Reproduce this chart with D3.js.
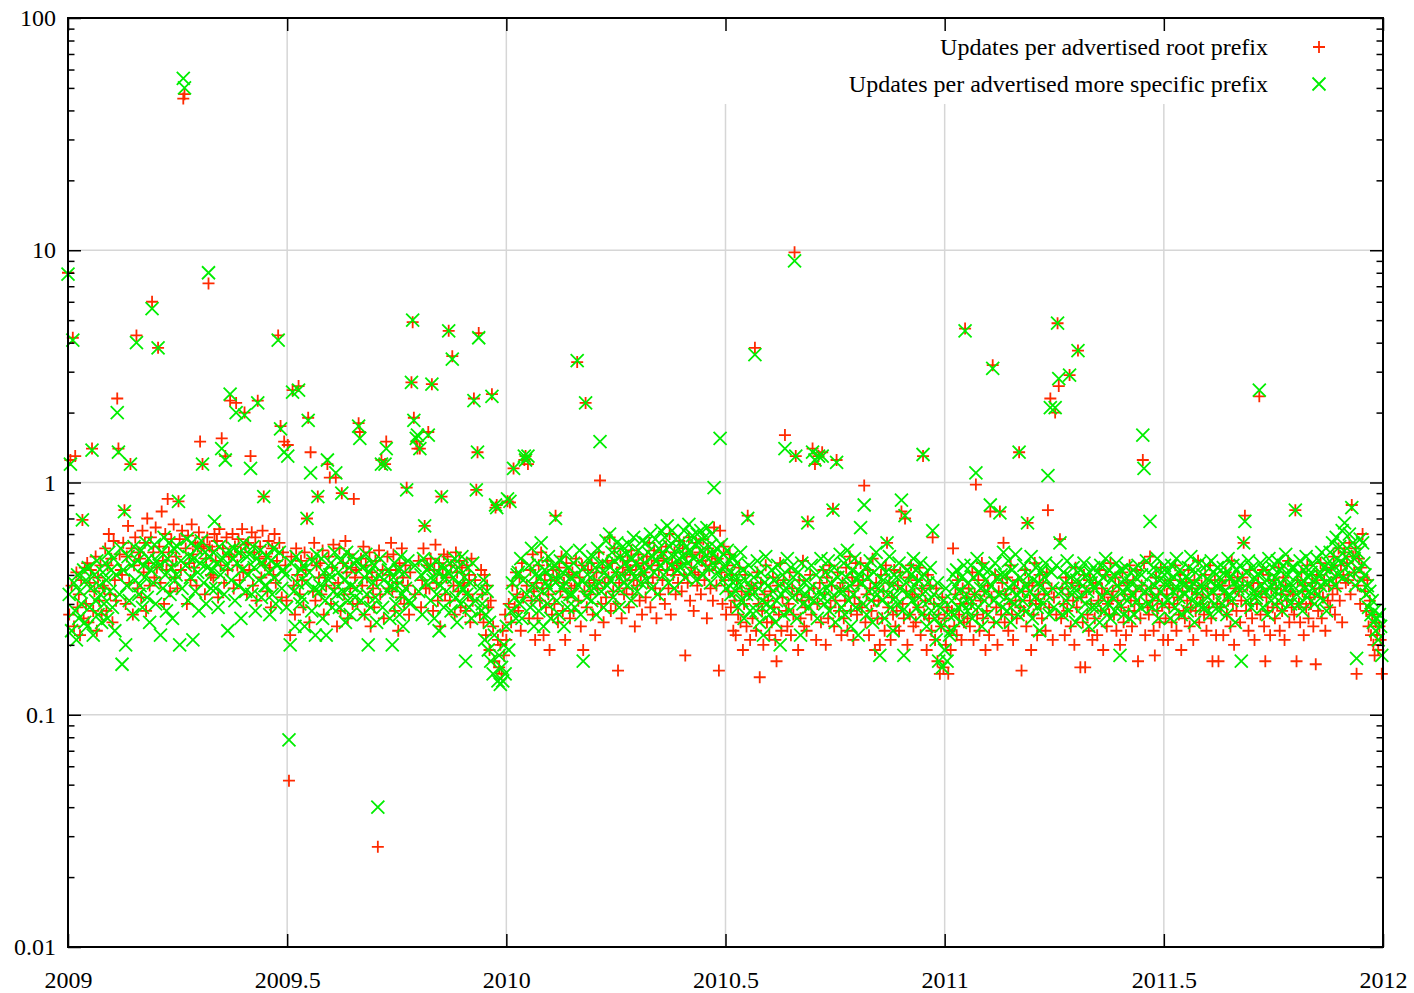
<!DOCTYPE html>
<html>
<head>
<meta charset="utf-8">
<script src="https://cdn.jsdelivr.net/npm/d3@7"></script>
<style>
  body { margin: 0; background: #fff; }
  text { font-family: "Liberation Serif", "DejaVu Serif", serif; }
</style>
</head>
<body>
<svg id="chart" width="1414" height="993"></svg>
<script>
// Daily update ratios, 2009-01-01 .. 2011-12-31, 15 days per row.
const rootPrefixUpdates = [
  8.0,0.27,1.25,0.36,4.2,0.24,1.3,0.41,0.29,0.33,0.22,0.38,0.69,0.26,0.43,
  0.30,0.45,0.25,0.37,0.42,1.4,0.28,0.34,0.48,0.23,0.39,0.31,0.44,0.27,0.36,
  0.35,0.52,0.28,0.44,0.60,0.33,0.47,0.25,0.56,0.38,0.31,2.3,1.4,0.49,0.42,
  0.40,0.55,0.76,0.30,0.48,0.65,0.37,1.2,0.52,0.27,0.44,0.58,4.3,0.35,0.50,
  0.47,0.32,0.62,0.41,0.55,0.28,0.70,0.45,0.36,0.58,6.0,0.50,0.39,0.64,0.43,
  3.8,0.53,0.37,0.75,0.46,0.30,0.60,0.42,0.85,0.50,0.34,0.57,0.44,0.66,0.39,
  0.48,0.35,0.83,0.57,0.42,0.62,45,47,0.52,0.30,0.59,0.45,0.38,0.66,0.49,
  0.43,0.55,0.36,0.53,0.61,1.5,0.52,1.2,0.54,0.33,0.47,0.58,7.2,0.53,0.40,
  0.51,0.39,0.60,0.46,0.56,0.32,0.63,0.44,1.55,0.52,0.37,1.3,0.58,0.42,0.49,
  2.25,0.48,0.60,0.35,0.53,2.2,0.44,0.57,0.38,0.50,0.63,0.41,2.0,0.54,0.33,
  0.55,0.42,1.3,0.61,0.36,0.50,0.58,0.31,2.25,0.47,0.53,0.39,0.62,0.87,0.44,
  0.48,0.34,0.56,0.43,0.29,0.52,0.40,0.60,0.37,0.46,4.3,0.55,1.75,0.32,0.50,
  1.5,0.44,0.31,1.45,0.052,0.22,0.48,2.5,0.36,0.27,0.52,0.40,2.6,0.33,0.46,
  0.38,0.29,0.50,0.42,0.7,1.9,0.25,1.35,0.47,0.34,0.55,0.31,0.44,0.87,0.39,
  0.45,0.33,0.51,0.27,0.40,0.36,1.2,0.48,1.05,0.30,0.43,0.54,0.35,1.05,0.24,
  0.37,0.52,0.28,0.9,0.45,0.33,0.56,0.41,0.26,0.49,0.35,0.43,0.30,0.85,0.39,
  0.42,0.30,1.8,1.65,0.47,0.36,0.53,0.27,0.44,0.39,0.32,0.50,0.24,0.41,0.35,
  0.29,0.46,0.38,0.027,0.51,0.33,1.25,0.42,0.26,1.2,1.5,0.48,0.35,0.40,0.55,
  0.34,0.49,0.28,0.42,0.37,0.23,0.45,0.32,0.52,0.39,0.30,0.44,0.95,0.36,0.27,
  0.41,2.7,4.9,1.9,0.33,1.5,1.4,0.46,1.4,0.29,0.38,0.52,0.65,0.35,0.44,
  1.65,0.35,0.47,2.65,0.28,0.42,0.54,0.37,0.31,0.45,0.24,0.87,0.40,0.49,0.33,
  0.39,0.48,4.5,0.31,0.44,3.5,0.36,0.27,0.50,0.41,0.34,0.46,0.29,0.43,0.37,
  0.36,0.28,0.44,0.33,0.40,0.25,0.47,0.31,2.3,0.38,0.93,1.35,4.4,0.27,0.42,
  0.33,0.25,0.40,0.22,0.36,0.29,0.19,0.31,2.4,0.24,0.17,0.78,0.8,0.21,0.16,
  0.20,0.15,0.23,0.18,0.27,0.21,0.83,0.30,0.82,0.25,0.36,1.15,0.29,0.41,0.33,
  0.28,0.39,0.23,0.45,0.32,1.25,1.3,0.36,1.2,0.26,0.42,0.31,0.49,0.34,0.21,
  0.37,0.26,0.44,0.31,0.50,0.35,0.22,0.40,0.29,0.46,0.33,0.19,0.38,0.27,0.42,
  0.30,0.72,0.39,0.25,0.43,0.34,0.48,0.28,0.37,0.21,0.45,0.32,0.40,0.26,0.35,
  0.41,0.28,0.36,0.47,3.3,0.31,0.39,0.24,0.44,0.19,0.34,2.2,0.29,0.42,0.37,
  0.33,0.45,0.27,0.38,0.22,0.41,0.35,0.50,1.02,0.30,0.43,0.25,0.37,0.32,0.46,
  0.39,0.58,0.28,0.45,0.34,0.52,0.30,0.41,0.155,0.37,0.48,0.26,0.43,0.33,0.40,
  0.35,0.46,0.29,0.42,0.51,0.33,0.38,0.24,0.44,0.36,0.49,0.31,0.40,0.27,0.45,
  0.41,0.32,0.48,0.37,0.55,0.29,0.44,0.39,0.51,0.35,0.26,0.46,0.42,0.33,0.50,
  0.38,0.47,0.30,0.53,0.42,0.35,0.60,0.27,0.45,0.40,0.50,0.33,0.44,0.37,0.56,
  0.45,0.34,0.52,0.40,0.18,0.48,0.37,0.58,0.31,0.43,0.49,0.28,0.41,0.55,0.36,
  0.40,0.50,0.33,0.46,0.57,0.38,0.44,0.26,0.52,0.42,0.35,0.48,0.31,0.64,0.45,
  0.36,0.47,0.155,0.62,0.41,0.30,0.53,0.38,0.27,0.44,0.34,0.49,0.29,0.40,0.23,
  0.31,0.22,0.38,0.27,0.43,0.25,0.34,0.19,0.30,0.40,0.24,0.72,0.33,0.21,0.36,
  0.26,0.35,3.8,0.23,0.41,0.30,0.145,0.37,0.28,0.20,0.33,0.44,0.25,0.31,0.22,
  0.34,0.25,0.39,0.29,0.21,0.17,0.36,0.27,0.45,0.23,0.32,0.38,1.6,0.28,0.24,
  0.30,0.41,0.22,0.35,0.27,9.8,1.3,0.33,0.19,0.38,0.26,0.31,0.46,0.24,0.29,
  0.23,0.68,0.32,0.40,0.27,1.4,0.35,1.2,0.21,0.30,1.3,0.37,0.25,1.35,0.42,
  0.33,0.20,0.39,0.26,0.44,0.29,0.36,0.77,0.24,0.31,1.25,0.41,0.28,0.35,0.22,
  0.37,0.26,0.31,0.43,0.23,0.34,0.48,0.28,0.39,0.21,0.32,0.45,0.27,0.36,0.30,
  0.45,0.29,0.38,0.97,0.25,0.33,0.42,0.22,0.35,0.28,0.47,0.31,0.19,0.37,0.26,
  0.31,0.20,0.40,0.26,0.34,0.23,0.44,0.55,0.29,0.37,0.21,0.32,0.27,0.42,0.24,
  0.28,0.36,0.23,0.41,0.75,0.30,0.26,0.7,0.34,0.20,0.39,0.27,0.44,0.32,0.24,
  0.33,0.25,0.38,0.29,0.43,0.22,0.35,1.3,0.27,0.31,0.19,0.40,0.26,0.36,0.23,
  0.58,0.30,0.21,0.35,0.17,0.27,0.15,0.24,0.32,0.16,0.26,0.20,0.29,0.15,0.23,
  0.19,0.28,0.52,0.24,0.33,0.22,0.38,0.27,0.30,0.21,0.35,0.25,4.6,0.32,0.26,
  0.35,0.24,0.30,0.41,0.21,0.33,0.98,0.27,0.38,0.23,0.31,0.45,0.26,0.34,0.19,
  0.28,0.36,0.22,0.75,0.32,3.2,0.25,0.40,0.29,0.20,0.34,0.75,0.27,0.37,0.55,
  0.25,0.33,0.39,0.23,0.30,0.44,0.27,0.21,0.35,0.31,0.26,0.38,1.35,0.29,0.155,
  0.34,0.28,0.42,0.24,0.67,0.37,0.31,0.19,0.36,0.27,0.45,0.30,0.22,0.33,0.40,
  0.30,0.26,0.37,0.33,0.23,0.41,0.76,0.29,2.3,0.35,0.21,0.32,2.0,0.27,4.85,
  2.6,0.57,0.26,0.35,0.30,0.22,0.39,0.28,0.33,2.9,0.24,0.37,0.31,0.20,0.43,
  0.29,3.7,0.36,0.16,0.32,0.25,0.40,0.16,0.34,0.27,0.23,0.38,0.30,0.21,0.35,
  0.26,0.37,0.22,0.31,0.42,0.28,0.35,0.19,0.33,0.40,0.24,0.30,0.27,0.45,0.32,
  0.34,0.27,0.39,0.23,0.31,0.36,0.20,0.29,0.41,0.25,0.33,0.22,0.37,0.28,0.44,
  0.31,0.24,0.38,0.28,0.34,0.42,0.17,0.30,0.26,0.36,1.25,0.45,0.22,0.33,0.29,
  0.27,0.48,0.35,0.31,0.23,0.18,0.39,0.28,0.33,0.25,0.43,0.30,0.21,0.36,0.26,
  0.33,0.21,0.29,0.38,0.25,0.35,0.30,0.44,0.23,0.32,0.27,0.40,0.19,0.34,0.28,
  0.26,0.37,0.31,0.42,0.24,0.29,0.35,0.21,0.38,0.28,0.33,0.46,0.25,0.30,0.36,
  0.32,0.27,0.40,0.23,0.35,0.29,0.44,0.26,0.17,0.33,0.38,0.22,0.30,0.17,0.36,
  0.29,0.36,0.22,0.33,0.41,0.27,0.31,0.38,0.24,0.46,0.30,0.20,0.35,0.28,0.39,
  0.34,0.25,0.31,0.39,0.55,0.72,0.28,0.36,0.23,0.42,0.30,0.26,0.37,0.21,0.33,
  0.30,0.37,2.35,0.27,0.34,0.42,0.24,0.17,0.32,0.28,0.40,0.22,0.35,0.29,0.38,
  0.26,0.35,0.30,0.43,0.23,0.33,0.28,0.39,0.21,0.36,0.31,0.46,0.25,0.34,0.29,
  0.33,0.27,0.76,0.17,0.38,0.30,0.25,0.41,0.34,0.22,0.36,0.29,0.44,0.26,0.32,
  0.30,0.37,0.24,0.33,0.165,0.40,0.28,0.35,0.45,0.26,0.32,0.38,0.23,0.42,0.31,
  0.36,0.29,0.43,0.33,0.48,0.27,0.39,0.35,0.52,0.31,0.44,0.25,0.40,0.5,0.37,
  0.45,0.38,0.55,0.33,0.8,0.48,0.41,0.52,0.15,0.36,0.47,0.30,0.43,0.6,0.39,
  0.34,0.28,0.38,0.24,0.31,0.22,0.27,0.20,0.18,0.25,0.22,0.19,0.24,0.21,0.15
];

const specificPrefixUpdates = [
  7.9,0.33,1.2,0.23,4.1,0.37,0.28,0.21,0.40,0.26,0.34,0.30,0.69,0.42,0.25,
  0.38,0.24,0.43,0.29,0.35,1.38,0.22,0.40,0.31,0.46,0.27,0.36,0.33,0.25,0.41,
  0.30,0.45,0.38,0.26,0.50,0.34,0.42,0.29,0.47,0.23,0.40,2.0,1.35,0.33,0.52,
  0.165,0.42,0.75,0.20,0.36,0.48,0.31,1.2,0.44,0.27,0.53,0.38,4.0,0.46,0.33,
  0.36,0.51,0.29,0.44,0.39,0.55,0.32,0.47,0.25,0.42,5.6,0.37,0.54,0.30,0.46,
  3.8,0.44,0.22,0.50,0.35,0.58,0.40,0.28,0.47,0.55,0.33,0.43,0.26,0.52,0.38,
  0.40,0.53,0.83,0.20,0.46,0.35,55,50,0.44,0.57,0.31,0.48,0.39,0.55,0.21,
  0.47,0.34,0.52,0.41,0.28,0.45,0.56,1.2,0.37,0.50,0.30,0.43,8.0,0.48,0.35,
  0.42,0.50,0.68,0.35,0.45,0.29,0.53,0.40,1.4,0.47,0.33,1.25,0.44,0.23,0.51,
  2.4,0.38,0.47,0.52,0.31,2.0,0.45,0.36,0.50,0.26,0.42,0.55,1.95,0.34,0.48,
  0.40,0.49,1.15,0.33,0.53,0.43,0.28,0.47,2.2,0.38,0.51,0.32,0.45,0.87,0.36,
  0.36,0.48,0.41,0.27,0.46,0.33,0.52,0.39,0.30,0.44,4.1,0.50,1.7,0.35,0.42,
  1.35,0.40,0.29,1.3,0.078,0.20,0.45,2.45,0.34,0.24,0.48,0.37,2.5,0.30,0.42,
  0.32,0.44,0.24,0.37,0.7,1.85,0.41,1.1,0.28,0.46,0.35,0.22,0.49,0.87,0.34,
  0.36,0.47,0.26,0.41,0.31,0.22,1.25,0.38,0.40,0.45,0.29,0.34,0.50,1.1,0.33,
  0.41,0.29,0.46,0.9,0.34,0.38,0.25,0.50,0.31,0.43,0.27,0.36,0.48,0.45,0.32,
  0.35,0.46,1.75,1.55,0.31,0.43,0.27,0.39,0.49,0.33,0.20,0.41,0.29,0.45,0.37,
  0.44,0.32,0.25,0.04,0.40,0.47,1.2,0.29,0.38,1.2,1.4,0.34,0.42,0.26,0.36,
  0.20,0.39,0.45,0.30,0.36,0.42,0.27,0.48,0.33,0.24,0.41,0.35,0.93,0.46,0.31,
  0.30,2.7,5.0,1.85,0.44,1.55,1.6,0.34,1.4,0.40,0.27,0.47,0.65,0.37,0.42,
  1.6,0.43,0.31,2.65,0.38,0.26,0.46,0.33,0.41,0.23,0.36,0.87,0.44,0.29,0.39,
  0.34,0.41,4.5,0.45,0.28,3.4,0.39,0.47,0.32,0.25,0.43,0.36,0.30,0.48,0.35,
  0.39,0.17,0.33,0.43,0.29,0.37,0.26,0.45,2.25,0.31,0.93,1.35,4.2,0.35,0.28,
  0.30,0.38,0.21,0.27,0.34,0.19,0.25,0.17,2.35,0.15,0.22,0.8,0.78,0.14,0.18,
  0.135,0.16,0.14,0.20,0.15,0.24,0.85,0.19,0.83,0.28,0.37,1.15,0.32,0.26,0.40,
  0.41,0.30,0.47,0.26,0.38,1.3,1.25,0.33,1.3,0.44,0.29,0.52,0.36,0.24,0.40,
  0.32,0.45,0.28,0.39,0.55,0.34,0.24,0.42,0.37,0.30,0.48,0.35,0.26,0.43,0.38,
  0.44,0.7,0.31,0.38,0.27,0.46,0.35,0.41,0.24,0.37,0.50,0.29,0.43,0.33,0.39,
  0.33,0.45,0.29,0.40,3.35,0.36,0.51,0.27,0.38,0.17,0.43,2.2,0.32,0.47,0.35,
  0.39,0.31,0.48,0.35,0.43,0.27,0.52,0.37,1.5,0.34,0.45,0.29,0.41,0.56,0.36,
  0.44,0.6,0.38,0.50,0.32,0.46,0.41,0.55,0.35,0.29,0.48,0.40,0.53,0.37,0.45,
  0.49,0.36,0.54,0.42,0.31,0.47,0.58,0.39,0.45,0.34,0.51,0.43,0.37,0.56,0.41,
  0.45,0.55,0.38,0.50,0.43,0.60,0.35,0.48,0.41,0.57,0.46,0.33,0.52,0.44,0.62,
  0.50,0.40,0.58,0.46,0.65,0.37,0.53,0.44,0.62,0.48,0.35,0.57,0.42,0.52,0.47,
  0.43,0.56,0.48,0.62,0.39,0.53,0.45,0.66,0.50,0.41,0.59,0.47,0.54,0.38,0.60,
  0.55,0.46,0.62,0.51,0.40,0.58,0.48,0.64,0.43,0.53,0.37,0.60,0.49,0.95,0.44,
  0.52,0.41,0.47,1.55,0.54,0.38,0.49,0.43,0.35,0.51,0.40,0.46,0.33,0.48,0.37,
  0.40,0.34,0.45,0.29,0.37,0.50,0.31,0.42,0.26,0.38,0.33,0.7,0.44,0.28,0.35,
  0.33,0.39,3.55,0.28,0.46,0.35,0.25,0.41,0.31,0.22,0.37,0.48,0.30,0.36,0.27,
  0.29,0.42,0.34,0.38,0.25,0.31,0.44,0.36,0.20,0.33,0.40,0.27,1.4,0.35,0.47,
  0.36,0.28,0.43,0.32,0.39,9.0,1.3,0.26,0.41,0.34,0.22,0.45,0.30,0.37,0.33,
  0.38,0.67,0.29,0.35,0.44,1.35,0.31,1.25,0.40,0.26,1.3,0.34,0.47,1.3,0.32,
  0.30,0.41,0.35,0.46,0.28,0.37,0.32,0.76,0.43,0.25,1.22,0.39,0.34,0.49,0.29,
  0.34,0.45,0.27,0.39,0.51,0.31,0.36,0.24,0.42,0.33,0.47,0.29,0.38,0.22,0.40,
  0.64,0.37,0.30,0.8,0.43,0.27,0.39,0.34,0.46,0.31,0.25,0.41,0.36,0.50,0.33,
  0.35,0.18,0.44,0.31,0.38,0.26,0.41,0.55,0.33,0.48,0.29,0.36,0.23,0.40,0.32,
  0.39,0.30,0.45,0.35,0.84,0.28,0.18,0.72,0.37,0.42,0.33,0.27,0.40,0.31,0.47,
  0.36,0.42,0.29,0.38,0.32,0.45,0.27,1.32,0.40,0.34,0.24,0.37,0.31,0.43,0.28,
  0.62,0.33,0.26,0.21,0.37,0.17,0.29,0.24,0.16,0.31,0.19,0.35,0.17,0.27,0.22,
  0.23,0.31,0.40,0.27,0.36,0.42,0.29,0.34,0.25,0.39,0.30,0.44,4.5,0.33,0.28,
  0.37,0.30,0.44,0.26,0.39,0.33,1.1,0.47,0.29,0.41,0.35,0.24,0.43,0.31,0.38,
  0.34,0.27,0.42,0.8,0.36,3.1,0.31,0.45,0.25,0.39,0.33,0.74,0.40,0.29,0.5,
  0.40,0.32,0.28,0.46,0.35,0.25,0.42,0.37,0.30,0.49,0.33,0.27,1.35,0.39,0.34,
  0.31,0.44,0.36,0.28,0.67,0.40,0.34,0.48,0.26,0.38,0.32,0.43,0.29,0.37,0.23,
  0.36,0.42,0.30,0.39,0.45,0.33,1.07,0.27,2.1,0.41,0.35,0.29,2.1,0.44,4.85,
  2.8,0.55,0.34,0.27,0.41,0.37,0.31,0.46,0.28,2.9,0.39,0.33,0.43,0.35,0.25,
  0.38,3.7,0.32,0.42,0.27,0.36,0.45,0.30,0.40,0.34,0.24,0.41,0.37,0.29,0.43,
  0.35,0.29,0.41,0.37,0.25,0.44,0.32,0.39,0.28,0.47,0.34,0.30,0.42,0.26,0.38,
  0.32,0.40,0.28,0.45,0.36,0.30,0.18,0.42,0.34,0.27,0.38,0.43,0.31,0.35,0.26,
  0.37,0.33,0.42,0.27,0.39,0.31,0.44,0.35,0.29,0.40,1.6,1.15,0.34,0.46,0.30,
  0.35,0.68,0.40,0.29,0.43,0.36,0.32,0.47,0.26,0.38,0.34,0.41,0.30,0.44,0.37,
  0.41,0.31,0.37,0.26,0.44,0.34,0.39,0.29,0.47,0.35,0.32,0.42,0.27,0.38,0.36,
  0.33,0.39,0.28,0.43,0.35,0.48,0.31,0.37,0.25,0.41,0.34,0.30,0.45,0.36,0.29,
  0.40,0.35,0.29,0.44,0.32,0.38,0.27,0.46,0.34,0.41,0.30,0.36,0.43,0.28,0.39,
  0.36,0.30,0.43,0.34,0.40,0.27,0.47,0.33,0.39,0.31,0.44,0.37,0.25,0.42,0.35,
  0.38,0.44,0.17,0.35,0.55,0.68,0.41,0.31,0.46,0.36,0.29,0.43,0.34,0.39,0.32,
  0.33,0.40,2.5,0.45,0.36,0.29,0.42,0.34,0.38,0.27,0.47,0.35,0.31,0.43,0.37,
  0.39,0.34,0.46,0.31,0.42,0.37,0.28,0.44,0.35,0.49,0.32,0.40,0.36,0.30,0.43,
  0.36,0.43,0.76,0.33,0.40,0.30,0.46,0.37,0.28,0.42,0.35,0.48,0.32,0.39,0.34,
  0.41,0.35,0.44,0.30,0.38,0.47,0.33,0.40,0.36,0.50,0.31,0.43,0.37,0.28,0.45,
  0.42,0.50,0.38,0.55,0.44,0.36,0.58,0.47,0.40,0.53,0.45,0.62,0.39,0.67,0.48,
  0.52,0.44,0.60,0.40,0.78,0.55,0.47,0.36,0.175,0.50,0.42,0.57,0.38,0.55,0.45,
  0.40,0.33,0.36,0.29,0.34,0.27,0.31,0.25,0.28,0.23,0.26,0.21,0.27,0.24,0.18
];

const yearTicks = [2009, 2009.5, 2010, 2010.5, 2011, 2011.5, 2012];
const decadeTicks = [0.01, 0.1, 1, 10, 100];
const seriesLabels = [
  "Updates per advertised root prefix",
  "Updates per advertised more specific prefix"
];
const seriesColors = ["#ff2a00", "#00ee00"];

const svg = d3.select("#chart");
const plotLeft = 68, plotRight = 1383, plotTop = 18, plotBottom = 947;
const fontSize = "24px";

const x = d3.scaleLinear().domain([2009, 2012]).range([plotLeft, plotRight]);
const y = d3.scaleLog().domain([0.01, 100]).range([plotBottom, plotTop]);

const minorTicks = [];
for (let e = -2; e < 2; e++) {
  for (let k = 2; k <= 9; k++) minorTicks.push(k * Math.pow(10, e));
}

// grid (major ticks only)
const grid = svg.append("g").attr("stroke", "#d6d6d6").attr("stroke-width", 1.5);
grid.selectAll("line.gx").data(yearTicks.slice(1, -1)).join("line")
  .attr("x1", d => x(d)).attr("x2", d => x(d))
  .attr("y1", plotTop).attr("y2", plotBottom);
grid.selectAll("line.gy").data(decadeTicks.slice(1, -1)).join("line")
  .attr("y1", d => y(d)).attr("y2", d => y(d))
  .attr("x1", plotLeft).attr("x2", plotRight);

// opaque key area
svg.append("rect").attr("x", 700).attr("y", plotTop + 2).attr("width", plotRight - 702)
  .attr("height", 84).attr("fill", "#fff");

// data
const toYear = (i, n) => 2009 + 3 * i / n;
const plusPath = "M-6,0H6M0,-6V6";
const crossPath = "M-6.5,-6.5L6.5,6.5M-6.5,6.5L6.5,-6.5";

function drawSeries(values, path, color) {
  const n = values.length;
  svg.append("g").attr("fill", "none").attr("stroke", color).attr("stroke-width", 1.8)
    .selectAll("path").data(values).join("path")
    .attr("d", path)
    .attr("transform", (d, i) => `translate(${x(toYear(i, n))},${y(d)})`);
}
drawSeries(rootPrefixUpdates, plusPath, seriesColors[0]);
drawSeries(specificPrefixUpdates, crossPath, seriesColors[1]);

// axes: ticks point inwards
function styleAxis(g) {
  g.select(".domain").remove();
  g.selectAll(".tick line").attr("stroke", "#000").attr("stroke-width", 1.5);
  g.selectAll("text").attr("fill", "#000").style("font-size", fontSize)
    .style("font-family", '"Liberation Serif", serif');
}
const fmt = d3.format("~g");

svg.append("g").attr("transform", `translate(${plotLeft},0)`)
  .call(d3.axisLeft(y).tickValues(decadeTicks).tickFormat(fmt)
    .tickSizeInner(-13).tickSizeOuter(0).tickPadding(12))
  .call(styleAxis);
svg.append("g").attr("transform", `translate(${plotLeft},0)`)
  .call(d3.axisLeft(y).tickValues(minorTicks).tickFormat("")
    .tickSizeInner(-6.5).tickSizeOuter(0))
  .call(styleAxis);
svg.append("g").attr("transform", `translate(${plotRight},0)`)
  .call(d3.axisRight(y).tickValues(decadeTicks).tickFormat("")
    .tickSizeInner(-13).tickSizeOuter(0))
  .call(styleAxis);
svg.append("g").attr("transform", `translate(${plotRight},0)`)
  .call(d3.axisRight(y).tickValues(minorTicks).tickFormat("")
    .tickSizeInner(-6.5).tickSizeOuter(0))
  .call(styleAxis);
svg.append("g").attr("transform", `translate(0,${plotBottom})`)
  .call(d3.axisBottom(x).tickValues(yearTicks).tickFormat(fmt)
    .tickSizeInner(-13).tickSizeOuter(0).tickPadding(24))
  .call(styleAxis);
svg.append("g").attr("transform", `translate(0,${plotTop})`)
  .call(d3.axisTop(x).tickValues(yearTicks).tickFormat("")
    .tickSizeInner(-13).tickSizeOuter(0))
  .call(styleAxis);

// border
svg.append("rect").attr("x", plotLeft).attr("y", plotTop)
  .attr("width", plotRight - plotLeft).attr("height", plotBottom - plotTop)
  .attr("fill", "none").attr("stroke", "#000").attr("stroke-width", 2);

// key
const key = svg.append("g");
const keyRows = [47, 84];
seriesLabels.forEach((label, i) => {
  key.append("text").attr("x", 1268).attr("y", keyRows[i]).attr("dy", "0.33em")
    .attr("text-anchor", "end").style("font-size", fontSize).text(label);
  key.append("path").attr("d", i === 0 ? plusPath : crossPath)
    .attr("transform", `translate(1319,${keyRows[i]})`)
    .attr("fill", "none").attr("stroke", seriesColors[i]).attr("stroke-width", 1.8);
});
</script>
</body>
</html>
